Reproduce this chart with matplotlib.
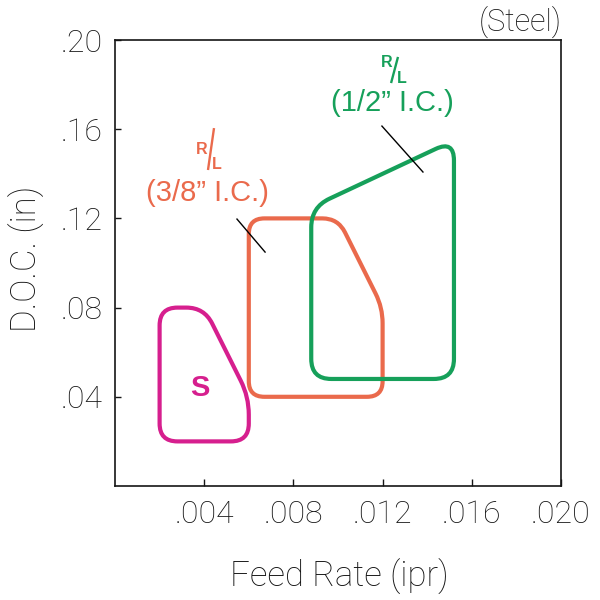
import numpy as np
import matplotlib
matplotlib.use("Agg")
import matplotlib.pyplot as plt
from matplotlib.path import Path
from matplotlib.patches import PathPatch

# ---- data ----
xticks = [0.004, 0.008, 0.012, 0.016, 0.020]
xtick_labels = [".004", ".008", ".012", ".016", ".020"]
yticks = [0.04, 0.08, 0.12, 0.16, 0.20]
ytick_labels = [".04", ".08", ".12", ".16", ".20"]

s_feed = [0.002, 0.002, 0.004, 0.006, 0.006]
s_doc = [0.020, 0.080, 0.080, 0.040, 0.020]

r38_feed = [0.006, 0.006, 0.010, 0.012, 0.012]
r38_doc = [0.040, 0.120, 0.120, 0.080, 0.040]

r12_feed = [0.0088, 0.0088, 0.0152, 0.0152]
r12_doc = [0.048, 0.125, 0.155, 0.048]

MAGENTA = "#D61F8E"
ORANGE = "#EA6A4C"
GREEN = "#16A05A"
INK = "#151515"

XMAX, YMAX = 0.020, 0.20

plt.rcParams['font.family'] = ['Roboto', 'Liberation Sans', 'DejaVu Sans']

fig = plt.figure(figsize=(6, 6), dpi=100)
ax = fig.add_axes([115/600, 1-486/600, 446/600, 446/600])
ax.set_xlim(0, XMAX)
ax.set_ylim(0, YMAX)


def rounded_patch(xs, ys, color, d=0.032):
    # rounding computed in normalized axis units, then mapped back to data
    P = np.column_stack([np.array(xs) / XMAX, np.array(ys) / YMAX])
    n = len(P)
    verts, codes = [], []
    for i in range(n):
        p0, p1, p2 = P[i-1], P[i], P[(i+1) % n]
        u0 = (p0 - p1) / np.linalg.norm(p0 - p1)
        u2 = (p2 - p1) / np.linalg.norm(p2 - p1)
        dd = min(d, 0.45*np.linalg.norm(p0-p1), 0.45*np.linalg.norm(p2-p1))
        a = p1 + dd*u0
        b = p1 + dd*u2
        verts.append(a); codes.append(Path.MOVETO if i == 0 else Path.LINETO)
        verts += [p1, b]; codes += [Path.CURVE3, Path.CURVE3]
    verts.append(verts[0]); codes.append(Path.LINETO)
    verts.append(verts[0]); codes.append(Path.CLOSEPOLY)
    V = np.array(verts) * np.array([XMAX, YMAX])
    patch = PathPatch(Path(V, codes), facecolor='none', edgecolor=color,
                      lw=3.0, joinstyle='round', capstyle='round')
    ax.add_patch(patch)


rounded_patch(s_feed, s_doc, MAGENTA, d=0.04)
rounded_patch(r38_feed, r38_doc, ORANGE, d=0.035)
rounded_patch(r12_feed, r12_doc, GREEN, d=0.045)

# leader lines
ax.plot([0.00547, 0.00673], [0.1197, 0.1049], color='black', lw=1.0)
ax.plot([0.01197, 0.01381], [0.1614, 0.1408], color='black', lw=1.0)

lab_font = ['Liberation Sans', 'DejaVu Sans']

ax.text(0.00381, 0.0439, "S", color=MAGENTA, fontsize=21, fontweight='bold',
        ha='center', va='center', family=lab_font)


def rl_label(x, y, text, color):
    ax.text(x, y, text, color=color, fontsize=21, ha='center', va='center',
            family=lab_font)


def rl_symbol(r_xy, l_xy, slash, color):
    ax.text(*r_xy, "R", color=color, fontsize=11.5, fontweight='bold',
            ha='center', va='center', family=lab_font)
    ax.text(*l_xy, "L", color=color, fontsize=11.5, fontweight='bold',
            ha='center', va='center', family=lab_font)
    ax.plot(slash[0], slash[1], color=color, lw=1.7, solid_capstyle='butt')


rl_label(0.00413, 0.1314, "(3/8\u201d I.C.)", ORANGE)
rl_symbol((0.00390, 0.1509), (0.00457, 0.1440),
          ([0.00444, 0.00417], [0.1605, 0.1417]), ORANGE)
rl_label(0.01242, 0.1717, "(1/2\u201d I.C.)", GREEN)
rl_symbol((0.01220, 0.1897), (0.01285, 0.1828),
          ([0.01269, 0.01238], [0.1924, 0.1807]), GREEN)

ax.set_xticks(xticks)
ax.set_xticklabels(xtick_labels)
ax.set_yticks(yticks)
ax.set_yticklabels(ytick_labels)
for lab in ax.get_xticklabels() + ax.get_yticklabels():
    lab.set_fontweight('light')
ax.tick_params(axis='x', direction='in', length=5, width=1.0, labelsize=23, pad=10,
               colors=INK)
ax.tick_params(axis='y', direction='in', length=4, width=1.0, labelsize=23, pad=9,
               colors=INK)
for sp in ax.spines.values():
    sp.set_linewidth(1.2)
    sp.set_color(INK)

fig.text(339/600, 1-577/600, "Feed Rate (ipr)", fontsize=25, ha='center', va='center',
         color=INK, fontweight='light')
fig.text(27/600, 1-259/600, "D.O.C. (in)", fontsize=25, ha='center', va='center',
         rotation=90, color=INK, fontweight='light')
fig.text(562/600, 1-22/600, "(Steel)", fontsize=22, ha='right', va='center',
         color=INK, fontweight='light')

fig.savefig("out.png", dpi=100)
